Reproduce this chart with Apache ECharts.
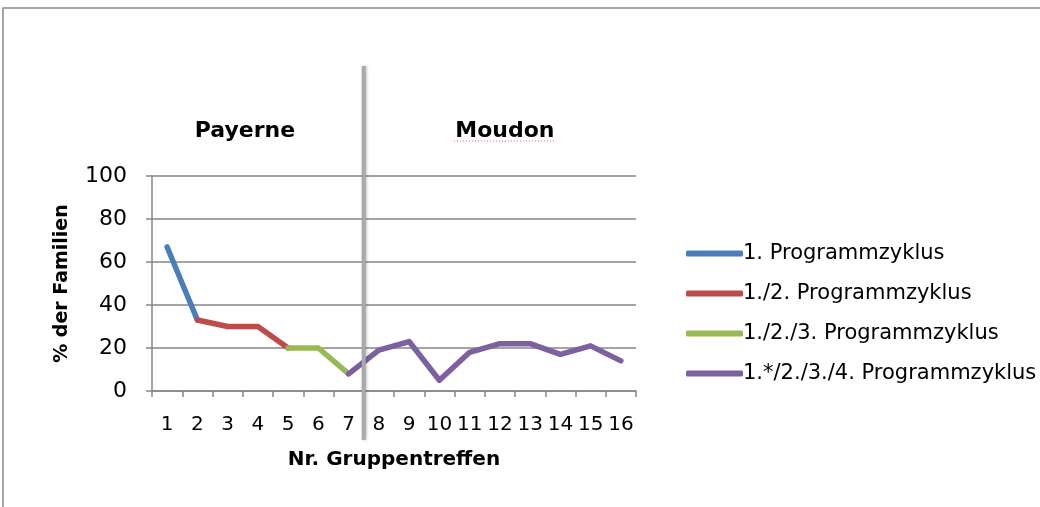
<!DOCTYPE html>
<html>
<head>
<meta charset="utf-8">
<script src="https://cdn.jsdelivr.net/npm/echarts@6/dist/echarts.min.js"></script>
<style>
    html, body { margin: 0; padding: 0; background: #fff; }
    #chart { width: 1040px; height: 507px; }
</style>
</head>
<body>
<div id="chart"></div>
<script>
    // Daten
    var categories = ['1', '2', '3', '4', '5', '6', '7', '8', '9', '10', '11', '12', '13', '14', '15', '16'];
    var seriesNames = ['1. Programmzyklus', '1./2. Programmzyklus', '1./2./3. Programmzyklus', '1.*/2./3./4. Programmzyklus'];
    var zyklus1 = [67, 33, null, null, null, null, null, null, null, null, null, null, null, null, null, null];
    var zyklus12 = [null, 33, 30, 30, 20, null, null, null, null, null, null, null, null, null, null, null];
    var zyklus123 = [null, null, null, null, 20, 20, 8, null, null, null, null, null, null, null, null, null];
    var zyklus1234 = [null, null, null, null, null, null, 8, 19, 23, 5, 18, 22, 22, 17, 21, 14];
    var yTicks = [0, 20, 40, 60, 80, 100];
    var colors = ['#4a7ebb', '#be4b48', '#98b954', '#7d60a0'];

    var font = '"DejaVu Sans", Verdana, sans-serif';
    var myChart = echarts.init(document.getElementById('chart'));

    function lineSeries(name, data, color) {
        return {
            name: name,
            type: 'line',
            data: data,
            symbol: 'none',
            smooth: false,
            connectNulls: false,
            color: color,
            lineStyle: { width: 5.5, color: color, cap: 'round', join: 'round' }
        };
    }

    myChart.setOption({
        animation: false,
        textStyle: { fontFamily: font },
        grid: { left: 152, right: 404, top: 176, bottom: 116 },
        legend: {
            orient: 'vertical',
            left: 681,
            top: 238,
            icon: 'roundRect',
            itemWidth: 57,
            itemHeight: 6,
            itemGap: 19,
            textStyle: { fontSize: 21, color: '#000', fontFamily: font, padding: [0, 0, 0, -5] },
            data: seriesNames
        },
        xAxis: {
            type: 'category',
            data: categories,
            boundaryGap: true,
            name: 'Nr. Gruppentreffen',
            nameLocation: 'middle',
            nameGap: 59,
            nameTextStyle: { fontSize: 20, fontWeight: 'bold', color: '#000' },
            axisLine: { lineStyle: { color: '#868686', width: 1.5 } },
            axisTick: { show: true, alignWithLabel: false, length: 6, lineStyle: { color: '#868686', width: 1.5 } },
            axisLabel: { fontSize: 20, color: '#000', margin: 24, interval: 0 }
        },
        yAxis: {
            type: 'value',
            min: yTicks[0],
            max: yTicks[yTicks.length - 1],
            interval: 20,
            name: '% der Familien',
            nameLocation: 'middle',
            nameGap: 80,
            nameTextStyle: { fontSize: 19, fontWeight: 'bold', color: '#000' },
            axisLine: { show: true, lineStyle: { color: '#868686', width: 1.5 } },
            axisTick: { show: true, inside: false, length: 6, lineStyle: { color: '#868686', width: 1.5 } },
            axisLabel: { fontSize: 22, color: '#000', margin: 25 },
            splitLine: { lineStyle: { color: '#868686', width: 1.5 } }
        },
        series: [
            lineSeries(seriesNames[0], zyklus1, colors[0]),
            lineSeries(seriesNames[1], zyklus12, colors[1]),
            lineSeries(seriesNames[2], zyklus123, colors[2]),
            lineSeries(seriesNames[3], zyklus1234, colors[3])
        ]
    });

    // Trennlinie zwischen Treffen 7 und 8, Ortsnamen
    var x7 = myChart.convertToPixel({ xAxisIndex: 0 }, '7');
    var x8 = myChart.convertToPixel({ xAxisIndex: 0 }, '8');
    var sepX = (x7 + x8) / 2;
    var x1 = myChart.convertToPixel({ xAxisIndex: 0 }, '1');
    var x16 = myChart.convertToPixel({ xAxisIndex: 0 }, '16');
    var moudonX = (x8 + x16) / 2 + 5;

    myChart.setOption({
        graphic: [
            {
                type: 'rect',
                shape: { x: 3, y: 8, width: 1100, height: 600 },
                style: { fill: 'none', stroke: '#8a8a8a', lineWidth: 1.5 },
                silent: true
            },
            {
                type: 'line',
                shape: { x1: sepX, y1: 66, x2: sepX, y2: 440 },
                style: { stroke: '#a9a9a9', lineWidth: 4, shadowBlur: 3, shadowColor: 'rgba(0,0,0,0.25)', shadowOffsetX: 1 },
                z: 100
            },
            {
                type: 'text',
                x: (x1 + x7) / 2 - 13,
                y: 131,
                style: { text: 'Payerne', font: 'bold 22px ' + font, fill: '#000', align: 'center', verticalAlign: 'middle' }
            },
            {
                type: 'text',
                x: moudonX,
                y: 131,
                style: { text: 'Moudon', font: 'bold 22px ' + font, fill: '#000', align: 'center', verticalAlign: 'middle' }
            },
            {
                type: 'line',
                shape: { x1: moudonX - 51, y1: 141, x2: moudonX + 51, y2: 141 },
                style: { stroke: '#e06060', lineWidth: 1, lineDash: [1, 2] }
            }
        ]
    });
</script>
</body>
</html>
